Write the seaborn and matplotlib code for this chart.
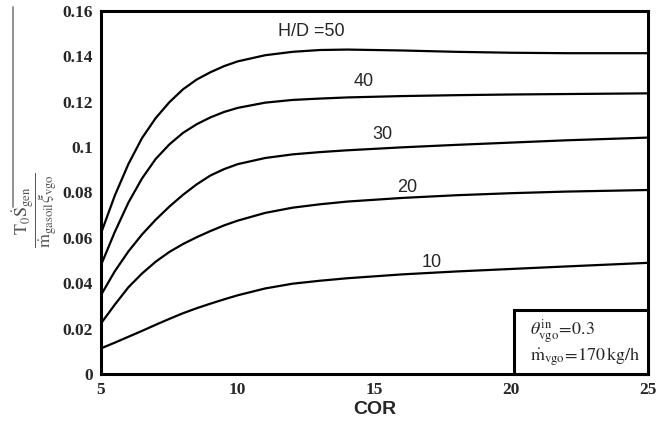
import numpy as np
import pandas as pd
import matplotlib
matplotlib.use("Agg")
import matplotlib.pyplot as plt
import seaborn as sns
from matplotlib.patches import Rectangle
from matplotlib.lines import Line2D

# ---- data ----
cor = [5, 5.5, 6, 6.5, 7, 7.5, 8, 8.5, 9, 9.5, 10, 11, 12, 13, 14, 16, 18, 20, 22, 25]
hd50 = [0.062, 0.0785, 0.0925, 0.1040, 0.1128, 0.1198, 0.1255, 0.1298, 0.1330, 0.1357, 0.1378,
        0.1405, 0.1420, 0.1428, 0.1430, 0.1426, 0.1420, 0.1416, 0.1414, 0.1414]
hd40 = [0.048, 0.0625, 0.0755, 0.0862, 0.0948, 0.1012, 0.1063, 0.1101, 0.1131, 0.1155, 0.1173,
        0.1196, 0.1208, 0.1214, 0.1219, 0.1225, 0.1229, 0.1232, 0.1234, 0.1237]
hd30 = [0.0348, 0.0452, 0.0540, 0.0615, 0.0680, 0.0738, 0.0790, 0.0836, 0.0875, 0.0903, 0.0925,
        0.0952, 0.0968, 0.0978, 0.0986, 0.0999, 0.1010, 0.1020, 0.1030, 0.1042]
hd20 = [0.0223, 0.0305, 0.0382, 0.0443, 0.0495, 0.0538, 0.0573, 0.0603, 0.0630, 0.0655, 0.0676,
        0.0710, 0.0733, 0.0748, 0.0760, 0.0776, 0.0788, 0.0797, 0.0804, 0.0811]
hd10 = [0.0113, 0.0138, 0.0164, 0.0190, 0.0217, 0.0243, 0.0268, 0.0290, 0.0310, 0.0329, 0.0347,
        0.0377, 0.0398, 0.0411, 0.0422, 0.0439, 0.0452, 0.0463, 0.0474, 0.0490]
series_names = ["50", "40", "30", "20", "10"]
labels = ["H/D =50", "40", "30", "20", "10"]
label_x = [12.7, 14.6, 15.3, 16.2, 17.1]
label_y = [0.151, 0.129, 0.1057, 0.082, 0.0493]
xticks = [5, 10, 15, 20, 25]
yticks = [0, 0.02, 0.04, 0.06, 0.08, 0.1, 0.12, 0.14, 0.16]
ytick_labels = ["0", "0.02", "0.04", "0.06", "0.08", "0.1", "0.12", "0.14", "0.16"]

rows = []
for name, vals in zip(series_names, [hd50, hd40, hd30, hd20, hd10]):
    for c, v in zip(cor, vals):
        rows.append({"COR": c, "val": v, "HD": name})
df = pd.DataFrame(rows)

sns.set_style("white")
plt.rcParams["mathtext.fontset"] = "stix"

fig = plt.figure(figsize=(6.7, 4.26), dpi=100)
ax = fig.add_axes([101/670, 1 - 374/426, 547/670, 363/426])

sns.lineplot(data=df, x="COR", y="val", hue="HD", hue_order=series_names,
             palette=["black"] * 5, linewidth=1.6, legend=False, ax=ax)
for ln in ax.get_lines():
    ln.set_solid_joinstyle("round")

ax.set_xlim(5, 25)
ax.set_ylim(0, 0.16)
ax.set_xticks(xticks)
ax.set_yticks(yticks)
ax.set_xticklabels([str(t) for t in xticks], fontfamily="Liberation Serif",
                   fontweight="bold", fontsize=12.5)
ax.set_yticklabels(ytick_labels, fontfamily="Liberation Serif",
                   fontweight="bold", fontsize=12.5)
ax.tick_params(axis="both", direction="out", length=4, width=1.5, color="black", pad=2)
for s in ax.spines.values():
    s.set_visible(True)
    s.set_color("black")
    s.set_linewidth(2.2)

ax.set_xlabel("COR", fontfamily="Liberation Sans", fontweight="bold", fontsize=14, labelpad=2)
ax.set_ylabel("")

for t, x, y in zip(labels, label_x, label_y):
    ax.text(x, y, t, fontfamily="Liberation Sans", fontsize=13, ha="center", va="center")

# annotation box
ax.add_patch(Rectangle((0.755, 0.0), 0.245, 0.176, transform=ax.transAxes,
                       fill=True, facecolor="white", edgecolor="black",
                       linewidth=2.2, clip_on=False, zorder=5))
ax.text(0.785, 0.118, r"$\theta_{\rm vgo}^{\rm in}\!=\!0.3$", transform=ax.transAxes,
        fontsize=13, ha="left", va="center", zorder=6)
ax.text(0.785, 0.048, r"$\dot{\rm m}_{\rm vgo}\!=\!170\,{\rm kg/h}$", transform=ax.transAxes,
        fontsize=13, ha="left", va="center", zorder=6)

# y label (fraction)
fig.text(35/670, 1 - 210/426,
         r"$\dfrac{\mathrm{T_0\dot{S}_{gen}}}{\dot{\mathrm{m}}_{\mathrm{gasoil}}\xi_{\mathrm{vgo}}}$",
         rotation=90, fontsize=13, color="#555555", ha="center", va="center")
fig.add_artist(Line2D([13/670, 13/670], [1 - 7/426, 1 - 207/426], color="#888888",
                      linewidth=1.3, transform=fig.transFigure))

fig.savefig("out.png", dpi=100)
